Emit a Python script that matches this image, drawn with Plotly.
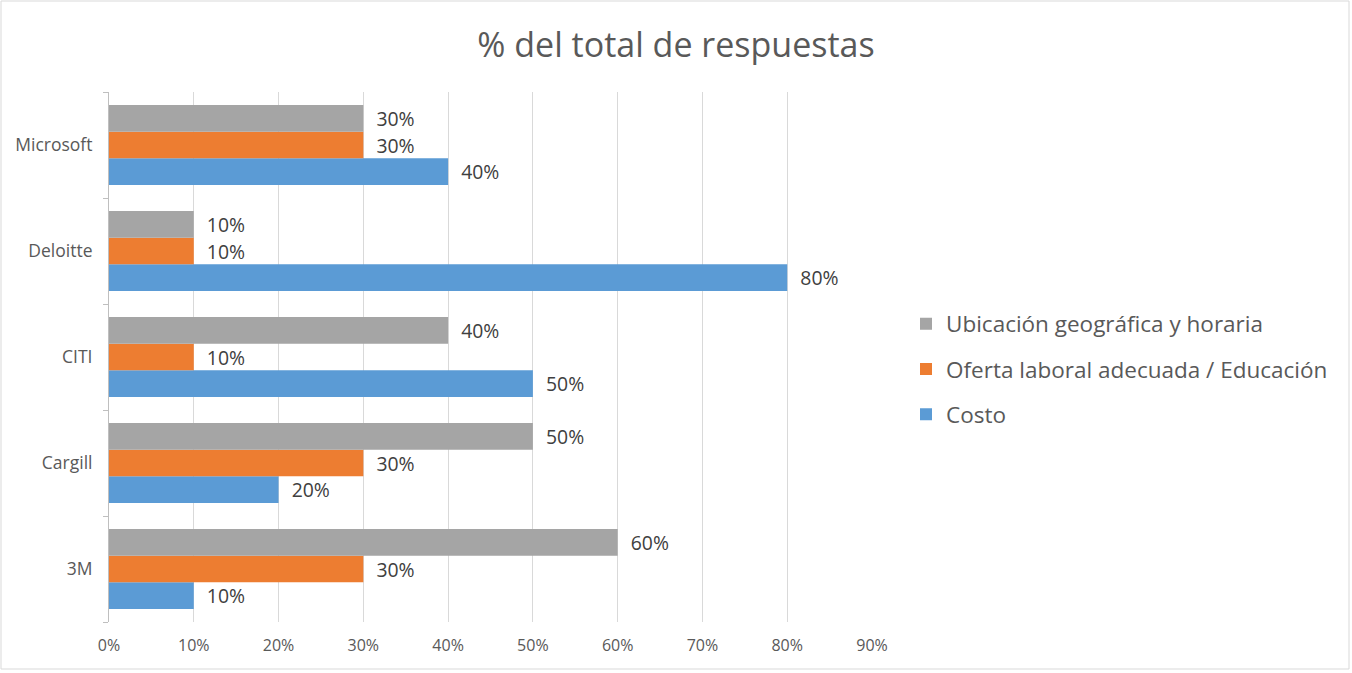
import plotly.graph_objects as go

categories = ["3M", "Cargill", "CITI", "Deloitte", "Microsoft"]
series_names = ["Costo", "Oferta laboral adecuada / Educación", "Ubicación geográfica y horaria"]
costo = [10, 20, 50, 80, 40]
oferta = [30, 30, 10, 10, 30]
ubicacion = [60, 50, 40, 10, 30]
colors = ["#5B9BD5", "#ED7D31", "#A5A5A5"]
x_ticks = [0, 10, 20, 30, 40, 50, 60, 70, 80, 90]
x_tick_labels = ["0%", "10%", "20%", "30%", "40%", "50%", "60%", "70%", "80%", "90%"]
title_text = "% del total de respuestas"

FONT = "Open Sans"
fig = go.Figure()
for i, (name, vals, col) in enumerate(zip(series_names, [costo, oferta, ubicacion], colors)):
    fig.add_trace(go.Bar(
        y=categories, x=vals, name=name, orientation="h",
        legendgroup=f"g{i}", legendrank=3 - i,
        marker=dict(color=col, line=dict(width=0)),
        text=[f"\u00a0\u00a0{v}%" for v in vals], textposition="outside",
        textfont=dict(size=24, color="#404040", family=FONT),
        cliponaxis=False,
    ))

L, R, T, B = 109, 480, 92, 51
W, H = 1352, 673
pw, ph = W - L - R, H - T - B

fig.update_layout(
    width=W, height=H,
    margin=dict(l=L, r=R, t=T, b=B),
    barmode="group", bargap=0.245, bargroupgap=0,
    plot_bgcolor="white", paper_bgcolor="white",
    font=dict(family=FONT, color="#595959"),
    title=dict(text=title_text, x=0.5, xref="container", xanchor="center",
               y=1 - 45 / H, yref="container", yanchor="middle",
               font=dict(size=34, color="#595959", family=FONT)),
    legend=dict(traceorder="grouped", x=(906 - L) / pw, xanchor="left",
                y=(H - B - 369) / ph, yanchor="middle",
                font=dict(size=22.5, color="#595959", family=FONT),
                itemwidth=30, tracegroupgap=13, bgcolor="rgba(0,0,0,0)"),
    xaxis=dict(range=[0, 90], tickvals=x_ticks, ticktext=x_tick_labels,
               showgrid=True, gridcolor="#D9D9D9", gridwidth=1,
               zeroline=False, showline=False, ticks="", ticklabelstandoff=12,
               tickfont=dict(size=16, color="#595959", family=FONT)),
    yaxis=dict(showline=True, linecolor="#BFBFBF", linewidth=1,
               ticks="outside", tickson="boundaries", ticklen=5, tickcolor="#BFBFBF",
               ticklabelstandoff=12,
               showgrid=False, tickfont=dict(size=17.5, color="#595959", family=FONT)),
    shapes=[dict(type="rect", xref="paper", yref="paper",
                 x0=(1 - L) / pw, x1=(W - 3 - L) / pw,
                 y0=(H - B - (H - 4)) / ph, y1=(H - B - 1) / ph,
                 line=dict(color="#D9D9D9", width=1), fillcolor="rgba(0,0,0,0)",
                 layer="below")],
    showlegend=True,
)

fig.write_html("out.html", config={"displayModeBar": False},
               post_script="document.body.style.margin='0';")
